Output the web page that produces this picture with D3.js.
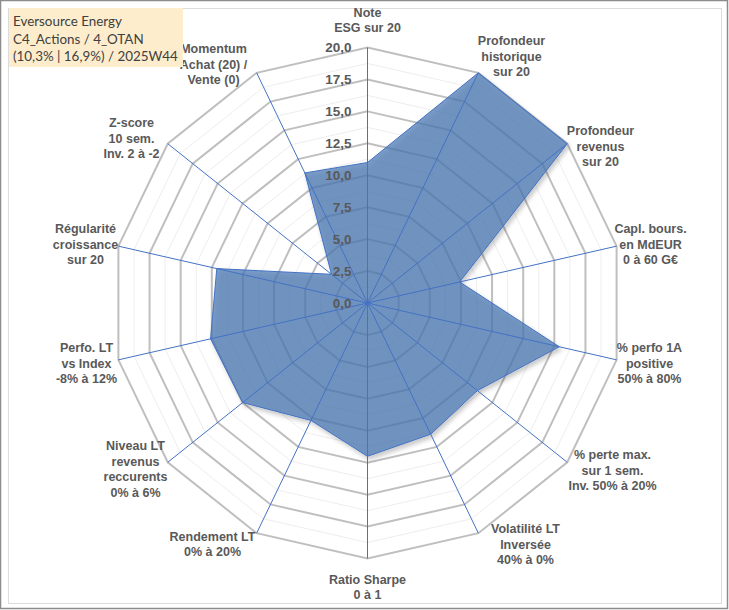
<!DOCTYPE html>
<html>
<head>
<meta charset="utf-8">
<script src="https://cdn.jsdelivr.net/npm/d3@7"></script>
<style>
  body { margin: 0; background: #fff; }
  svg text { font-family: "Liberation Sans", Arial, sans-serif; }
</style>
</head>
<body>
<div id="chart"></div>
<script>
// chart size
var svgWidth = 729;
var svgHeight = 610;

// axis labels (one array per line of text)
var categories = [
  ["Note", "ESG sur 20"],
  ["Profondeur", "historique", "sur 20"],
  ["Profondeur", "revenus", "sur 20"],
  ["Capl. bours.", "en MdEUR", "0 à 60 G€"],
  ["% perfo 1A", "positive", "50% à 80%"],
  ["% perte max.", "sur 1 sem.", "Inv. 50% à 20%"],
  ["Volatilité LT", "Inversée", "40% à 0%"],
  ["Ratio Sharpe", "0 à 1"],
  ["Rendement LT", "0% à 20%"],
  ["Niveau LT", "revenus", "reccurents", "0% à 6%"],
  ["Perfo. LT", "vs Index", "-8% à 12%"],
  ["Régularité", "croissance", "sur 20"],
  ["Z-score", "10 sem.", "Inv. 2 à -2"],
  ["Momentum", "Achat (20) /", "Vente (0)"]
];

// scores
var scores = [11.0, 20.0, 20.0, 7.4, 15.4, 11.0, 11.4, 12.0, 10.2, 12.5, 12.6, 12.1, 3.6, 11.3];

// radial ticks
var majorTicks = [0, 2.5, 5, 7.5, 10, 12.5, 15, 17.5, 20];
var minorTicks = [1.25, 3.75, 6.25, 8.75, 11.25, 13.75, 16.25, 18.75];

var titleLines = ["Eversource Energy", "C4_Actions / 4_OTAN", "(10,3% | 16,9%) / 2025W44"];

// centre and radius of the web
var cx = 367.5, cy = 303, R = 255.5;

var svg = d3.select("#chart")
  .append("svg")
  .attr("width", svgWidth)
  .attr("height", svgHeight);

// outer frame + inner chart area border
svg.append("rect")
  .attr("x", 0.5).attr("y", 0.5)
  .attr("width", svgWidth - 2).attr("height", svgHeight - 2)
  .attr("fill", "#fff").attr("stroke", "#8c8c8c").attr("stroke-width", 1.5);
svg.append("rect")
  .attr("x", 8.5).attr("y", 8.5)
  .attr("width", 713).attr("height", 595)
  .attr("fill", "none").attr("stroke", "#dcdcdc").attr("stroke-width", 1);

var defs = svg.append("defs");
var shadow = defs.append("filter").attr("id", "shadow")
  .attr("x", "-10%").attr("y", "-10%").attr("width", "120%").attr("height", "120%");
shadow.append("feDropShadow")
  .attr("dx", 2).attr("dy", 3).attr("stdDeviation", 2.2)
  .attr("flood-color", "#000").attr("flood-opacity", 0.28);

var g = svg.append("g")
  .attr("transform", `translate(${cx}, ${cy})`);

// scales
var rScale = d3.scaleLinear().domain([0, 20]).range([0, R]);
var aScale = d3.scaleLinear().domain([0, categories.length]).range([0, 2 * Math.PI]);

function px(i, v) { return rScale(v) * Math.sin(aScale(i)); }
function py(i, v) { return -rScale(v) * Math.cos(aScale(i)); }

var ringLine = d3.lineRadial()
  .angle((d, i) => aScale(i))
  .radius(d => rScale(d))
  .curve(d3.curveLinearClosed);

// minor grid
g.selectAll(".minor")
  .data(minorTicks)
  .enter()
  .append("path")
  .attr("d", t => ringLine(categories.map(() => t)))
  .attr("fill", "none")
  .attr("stroke", "#eeeeee")
  .attr("stroke-width", 1);

// major grid
g.selectAll(".major")
  .data(majorTicks.filter(t => t > 0))
  .enter()
  .append("path")
  .attr("d", t => ringLine(categories.map(() => t)))
  .attr("fill", "none")
  .attr("stroke", "#bfbfbf")
  .attr("stroke-width", 2);

// data polygon
g.append("path")
  .attr("d", ringLine(scores))
  .attr("fill", "rgb(75,120,180)")
  .attr("fill-opacity", 0.73)
  .attr("stroke", "#4472c4")
  .attr("stroke-width", 1)
  .attr("filter", "url(#shadow)");

// spokes
g.selectAll(".spoke")
  .data(categories)
  .enter()
  .append("line")
  .attr("x1", 0).attr("y1", 0)
  .attr("x2", (d, i) => px(i, 20))
  .attr("y2", (d, i) => py(i, 20))
  .attr("stroke", "#4472c4")
  .attr("stroke-width", 1);

// tick labels
g.selectAll(".tick")
  .data(majorTicks)
  .enter()
  .append("text")
  .attr("x", -16)
  .attr("y", t => -rScale(t))
  .attr("dy", "0.36em")
  .attr("text-anchor", "end")
  .attr("font-size", 13.5)
  .attr("font-weight", "bold")
  .attr("fill", "#595959")
  .text(t => d3.format(".1f")(t).replace(".", ","));

// category labels: placed beyond the outer ring
var labelPos = [
  [0, -283], [144, -247], [233, -157], [283, -59], [282, 60], [245, 167],
  [158, 241], [0, 284], [-155, 241], [-232, 166], [-281, 60], [-282, -59],
  [-236, -165], [-154, -239]
];
var lineH = 15.6;

categories.forEach((lines, i) => {
  var t = g.append("text")
    .attr("text-anchor", "middle")
    .attr("font-size", 12.5)
    .attr("font-weight", "bold")
    .attr("fill", "#595959");
  var y0 = labelPos[i][1] - (lines.length - 1) * lineH / 2;
  lines.forEach((s, k) => {
    t.append("tspan")
      .attr("x", labelPos[i][0])
      .attr("y", y0 + k * lineH)
      .attr("dy", "0.36em")
      .text(s);
  });
});

// title box
svg.append("rect")
  .attr("x", 9).attr("y", 8)
  .attr("width", 174).attr("height", 59)
  .attr("fill", "#fdedcc");

svg.append("g")
  .selectAll("text")
  .data(titleLines)
  .enter()
  .append("text")
  .attr("x", 13)
  .attr("y", (d, i) => 26 + i * 17.6)
  .style("font-family", "Lato, 'Noto Sans', sans-serif")
  .attr("font-size", 13.4)
  .attr("fill", "#404040")
  .text(d => d);
</script>
</body>
</html>
